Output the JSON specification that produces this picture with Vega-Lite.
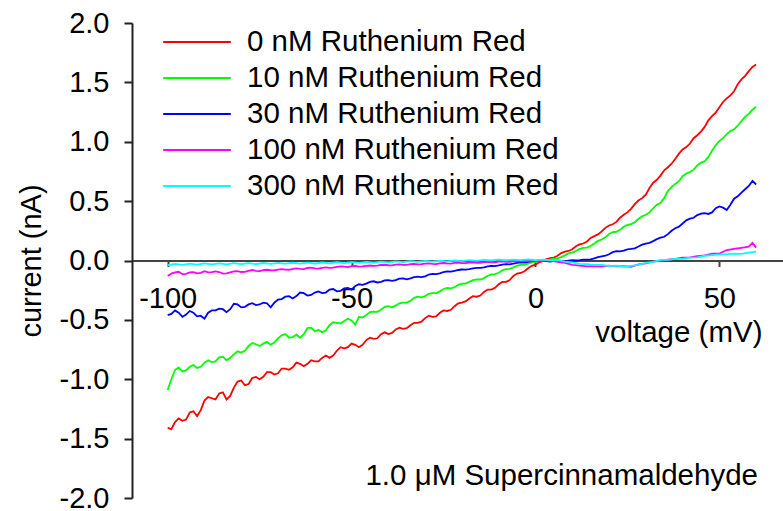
{
"$schema": "https://vega.github.io/schema/vega-lite/v6.json",
"width": 651, "height": 475,
"autosize": {"type": "none"},
"padding": {"left": 132, "top": 23, "right": 0, "bottom": 13},
"background": "white",
"config": {"font": "Liberation Sans", "view": {"stroke": null}},
"layer": [
{
"data": {"values": [
{"s":"0","v":-100,"i":-1.41},{"s":"0","v":-98,"i":-1.36},{"s":"0","v":-96,"i":-1.35},{"s":"0","v":-94,"i":-1.28},{"s":"0","v":-92,"i":-1.31},{"s":"0","v":-90,"i":-1.18},{"s":"0","v":-88,"i":-1.16},{"s":"0","v":-86,"i":-1.12},{"s":"0","v":-84,"i":-1.17},{"s":"0","v":-82,"i":-1.07},{"s":"0","v":-80,"i":-1.01},{"s":"0","v":-78,"i":-1.04},{"s":"0","v":-76,"i":-0.98},{"s":"0","v":-74,"i":-0.98},{"s":"0","v":-72,"i":-0.94},{"s":"0","v":-70,"i":-0.95},{"s":"0","v":-68,"i":-0.91},{"s":"0","v":-66,"i":-0.90},{"s":"0","v":-64,"i":-0.87},{"s":"0","v":-62,"i":-0.87},{"s":"0","v":-60,"i":-0.85},{"s":"0","v":-58,"i":-0.82},{"s":"0","v":-56,"i":-0.82},{"s":"0","v":-54,"i":-0.76},{"s":"0","v":-52,"i":-0.74},{"s":"0","v":-50,"i":-0.70},{"s":"0","v":-48,"i":-0.73},{"s":"0","v":-46,"i":-0.67},{"s":"0","v":-44,"i":-0.66},{"s":"0","v":-42,"i":-0.62},{"s":"0","v":-40,"i":-0.62},{"s":"0","v":-38,"i":-0.58},{"s":"0","v":-36,"i":-0.575},{"s":"0","v":-34,"i":-0.545},{"s":"0","v":-32,"i":-0.525},{"s":"0","v":-30,"i":-0.485},{"s":"0","v":-28,"i":-0.475},{"s":"0","v":-26,"i":-0.44},{"s":"0","v":-24,"i":-0.425},{"s":"0","v":-22,"i":-0.385},{"s":"0","v":-20,"i":-0.355},{"s":"0","v":-18,"i":-0.32},{"s":"0","v":-16,"i":-0.305},{"s":"0","v":-14,"i":-0.265},{"s":"0","v":-12,"i":-0.245},{"s":"0","v":-10,"i":-0.2},{"s":"0","v":-8,"i":-0.18},{"s":"0","v":-6,"i":-0.13},{"s":"0","v":-4,"i":-0.105},{"s":"0","v":-2,"i":-0.065},{"s":"0","v":0,"i":-0.035},{"s":"0","v":2,"i":-0.005},{"s":"0","v":4,"i":0.02},{"s":"0","v":6,"i":0.04},{"s":"0","v":8,"i":0.075},{"s":"0","v":10,"i":0.095},{"s":"0","v":12,"i":0.135},{"s":"0","v":14,"i":0.16},{"s":"0","v":16,"i":0.205},{"s":"0","v":18,"i":0.245},{"s":"0","v":20,"i":0.295},{"s":"0","v":22,"i":0.325},{"s":"0","v":24,"i":0.385},{"s":"0","v":26,"i":0.435},{"s":"0","v":28,"i":0.505},{"s":"0","v":30,"i":0.555},{"s":"0","v":32,"i":0.655},{"s":"0","v":34,"i":0.715},{"s":"0","v":36,"i":0.785},{"s":"0","v":38,"i":0.855},{"s":"0","v":40,"i":0.935},{"s":"0","v":42,"i":0.985},{"s":"0","v":44,"i":1.055},{"s":"0","v":46,"i":1.125},{"s":"0","v":48,"i":1.215},{"s":"0","v":50,"i":1.29},{"s":"0","v":52,"i":1.365},{"s":"0","v":54,"i":1.425},{"s":"0","v":56,"i":1.525},{"s":"0","v":58,"i":1.595},{"s":"0","v":60,"i":1.65},
{"s":"0","v":-99,"i":-1.42},{"s":"0","v":-97,"i":-1.33},{"s":"0","v":-95,"i":-1.34},{"s":"0","v":-93,"i":-1.27},{"s":"0","v":-91,"i":-1.26},{"s":"0","v":-89,"i":-1.15},{"s":"0","v":-87,"i":-1.17},{"s":"0","v":-85,"i":-1.11},{"s":"0","v":-83,"i":-1.14},{"s":"0","v":-81,"i":-1.02},{"s":"0","v":-79,"i":-1.05},{"s":"0","v":-77,"i":-0.99},{"s":"0","v":-75,"i":-1.0},{"s":"0","v":-73,"i":-0.94},{"s":"0","v":-71,"i":-0.96},{"s":"0","v":-69,"i":-0.91},{"s":"0","v":-67,"i":-0.92},{"s":"0","v":-65,"i":-0.86},{"s":"0","v":-63,"i":-0.89},{"s":"0","v":-61,"i":-0.84},{"s":"0","v":-59,"i":-0.85},{"s":"0","v":-57,"i":-0.80},{"s":"0","v":-55,"i":-0.80},{"s":"0","v":-53,"i":-0.73},{"s":"0","v":-51,"i":-0.73},{"s":"0","v":-49,"i":-0.71},{"s":"0","v":-47,"i":-0.71},{"s":"0","v":-45,"i":-0.65},{"s":"0","v":-43,"i":-0.655},{"s":"0","v":-41,"i":-0.605},{"s":"0","v":-39,"i":-0.61},{"s":"0","v":-37,"i":-0.565},{"s":"0","v":-35,"i":-0.57},{"s":"0","v":-33,"i":-0.525},{"s":"0","v":-31,"i":-0.515},{"s":"0","v":-29,"i":-0.465},{"s":"0","v":-27,"i":-0.47},{"s":"0","v":-25,"i":-0.42},{"s":"0","v":-23,"i":-0.415},{"s":"0","v":-21,"i":-0.36},{"s":"0","v":-19,"i":-0.345},{"s":"0","v":-17,"i":-0.30},{"s":"0","v":-15,"i":-0.295},{"s":"0","v":-13,"i":-0.245},{"s":"0","v":-11,"i":-0.23},{"s":"0","v":-9,"i":-0.18},{"s":"0","v":-7,"i":-0.165},{"s":"0","v":-5,"i":-0.11},{"s":"0","v":-3,"i":-0.09},{"s":"0","v":-1,"i":-0.045},
{"s":"0","v":1,"i":-0.015},{"s":"0","v":3,"i":0.012},{"s":"0","v":5,"i":0.025},{"s":"0","v":7,"i":0.062},{"s":"0","v":9,"i":0.08},{"s":"0","v":11,"i":0.12},{"s":"0","v":13,"i":0.143},{"s":"0","v":15,"i":0.19},{"s":"0","v":17,"i":0.22},{"s":"0","v":19,"i":0.275},{"s":"0","v":21,"i":0.305},{"s":"0","v":23,"i":0.36},{"s":"0","v":25,"i":0.405},{"s":"0","v":27,"i":0.475},{"s":"0","v":29,"i":0.525},{"s":"0","v":31,"i":0.61},{"s":"0","v":33,"i":0.68},{"s":"0","v":35,"i":0.76},{"s":"0","v":37,"i":0.815},{"s":"0","v":39,"i":0.9},{"s":"0","v":41,"i":0.955},{"s":"0","v":43,"i":1.03},{"s":"0","v":45,"i":1.085},{"s":"0","v":47,"i":1.18},{"s":"0","v":49,"i":1.245},{"s":"0","v":51,"i":1.335},{"s":"0","v":53,"i":1.39},{"s":"0","v":55,"i":1.485},{"s":"0","v":57,"i":1.555},{"s":"0","v":59,"i":1.63},
{"s":"10","v":-100,"i":-1.09},{"s":"10","v":-99,"i":-1.0},{"s":"10","v":-98,"i":-0.92},{"s":"10","v":-96,"i":-0.935},{"s":"10","v":-94,"i":-0.895},{"s":"10","v":-92,"i":-0.905},{"s":"10","v":-90,"i":-0.86},{"s":"10","v":-88,"i":-0.855},{"s":"10","v":-86,"i":-0.815},{"s":"10","v":-84,"i":-0.84},{"s":"10","v":-82,"i":-0.79},{"s":"10","v":-80,"i":-0.775},{"s":"10","v":-78,"i":-0.72},{"s":"10","v":-76,"i":-0.705},{"s":"10","v":-74,"i":-0.70},{"s":"10","v":-72,"i":-0.71},{"s":"10","v":-70,"i":-0.655},{"s":"10","v":-68,"i":-0.62},{"s":"10","v":-66,"i":-0.645},{"s":"10","v":-64,"i":-0.65},{"s":"10","v":-62,"i":-0.57},{"s":"10","v":-60,"i":-0.595},{"s":"10","v":-58,"i":-0.605},{"s":"10","v":-56,"i":-0.545},{"s":"10","v":-54,"i":-0.525},{"s":"10","v":-52,"i":-0.51},{"s":"10","v":-50,"i":-0.505},{"s":"10","v":-49,"i":-0.54},{"s":"10","v":-48,"i":-0.475},{"s":"10","v":-46,"i":-0.46},{"s":"10","v":-44,"i":-0.43},{"s":"10","v":-42,"i":-0.415},{"s":"10","v":-40,"i":-0.385},{"s":"10","v":-38,"i":-0.38},{"s":"10","v":-36,"i":-0.355},{"s":"10","v":-34,"i":-0.34},{"s":"10","v":-32,"i":-0.305},{"s":"10","v":-30,"i":-0.30},{"s":"10","v":-28,"i":-0.275},{"s":"10","v":-26,"i":-0.26},{"s":"10","v":-24,"i":-0.23},{"s":"10","v":-22,"i":-0.225},{"s":"10","v":-20,"i":-0.195},{"s":"10","v":-18,"i":-0.18},{"s":"10","v":-16,"i":-0.16},{"s":"10","v":-14,"i":-0.148},{"s":"10","v":-12,"i":-0.117},{"s":"10","v":-10,"i":-0.103},{"s":"10","v":-8,"i":-0.072},{"s":"10","v":-6,"i":-0.058},{"s":"10","v":-4,"i":-0.037},{"s":"10","v":-2,"i":-0.027},{"s":"10","v":0,"i":-0.01},{"s":"10","v":2,"i":-0.004},{"s":"10","v":4,"i":0.008},{"s":"10","v":6,"i":0.018},{"s":"10","v":8,"i":0.043},{"s":"10","v":10,"i":0.067},{"s":"10","v":12,"i":0.098},{"s":"10","v":14,"i":0.108},{"s":"10","v":16,"i":0.143},{"s":"10","v":18,"i":0.177},{"s":"10","v":20,"i":0.223},{"s":"10","v":22,"i":0.242},{"s":"10","v":24,"i":0.284},{"s":"10","v":26,"i":0.306},{"s":"10","v":28,"i":0.35},{"s":"10","v":30,"i":0.385},{"s":"10","v":32,"i":0.44},{"s":"10","v":34,"i":0.485},{"s":"10","v":36,"i":0.585},{"s":"10","v":38,"i":0.645},{"s":"10","v":40,"i":0.71},{"s":"10","v":42,"i":0.745},{"s":"10","v":44,"i":0.80},{"s":"10","v":46,"i":0.835},{"s":"10","v":48,"i":0.925},{"s":"10","v":50,"i":1.005},{"s":"10","v":52,"i":1.065},{"s":"10","v":54,"i":1.105},{"s":"10","v":56,"i":1.175},{"s":"10","v":58,"i":1.235},{"s":"10","v":60,"i":1.295},
{"s":"10","v":-97,"i":-0.90},{"s":"10","v":-95,"i":-0.925},{"s":"10","v":-93,"i":-0.88},{"s":"10","v":-91,"i":-0.895},{"s":"10","v":-89,"i":-0.84},{"s":"10","v":-87,"i":-0.85},{"s":"10","v":-85,"i":-0.81},{"s":"10","v":-83,"i":-0.82},{"s":"10","v":-81,"i":-0.765},{"s":"10","v":-79,"i":-0.76},{"s":"10","v":-77,"i":-0.695},{"s":"10","v":-75,"i":-0.72},{"s":"10","v":-73,"i":-0.685},{"s":"10","v":-71,"i":-0.69},{"s":"10","v":-69,"i":-0.63},{"s":"10","v":-67,"i":-0.65},{"s":"10","v":-65,"i":-0.625},{"s":"10","v":-63,"i":-0.62},{"s":"10","v":-61,"i":-0.565},{"s":"10","v":-59,"i":-0.585},{"s":"10","v":-57,"i":-0.59},{"s":"10","v":-55,"i":-0.52},{"s":"10","v":-53,"i":-0.53},{"s":"10","v":-51,"i":-0.49},{"s":"10","v":-47,"i":-0.48},{"s":"10","v":-45,"i":-0.435},{"s":"10","v":-43,"i":-0.432},{"s":"10","v":-41,"i":-0.39},{"s":"10","v":-39,"i":-0.395},{"s":"10","v":-37,"i":-0.36},{"s":"10","v":-35,"i":-0.355},{"s":"10","v":-33,"i":-0.315},{"s":"10","v":-31,"i":-0.31},{"s":"10","v":-29,"i":-0.28},{"s":"10","v":-27,"i":-0.275},{"s":"10","v":-25,"i":-0.24},{"s":"10","v":-23,"i":-0.235},{"s":"10","v":-21,"i":-0.205},{"s":"10","v":-19,"i":-0.195},{"s":"10","v":-17,"i":-0.165},{"s":"10","v":-15,"i":-0.16},{"s":"10","v":-13,"i":-0.128},{"s":"10","v":-11,"i":-0.115},{"s":"10","v":-9,"i":-0.083},{"s":"10","v":-7,"i":-0.07},{"s":"10","v":-5,"i":-0.043},{"s":"10","v":-3,"i":-0.035},{"s":"10","v":-1,"i":-0.016},
{"s":"10","v":1,"i":-0.001},{"s":"10","v":3,"i":0.0},{"s":"10","v":5,"i":0.016},{"s":"10","v":7,"i":0.028},{"s":"10","v":9,"i":0.06},{"s":"10","v":11,"i":0.08},{"s":"10","v":13,"i":0.107},{"s":"10","v":15,"i":0.122},{"s":"10","v":17,"i":0.166},{"s":"10","v":19,"i":0.195},{"s":"10","v":21,"i":0.238},{"s":"10","v":23,"i":0.258},{"s":"10","v":25,"i":0.3},{"s":"10","v":27,"i":0.322},{"s":"10","v":29,"i":0.372},{"s":"10","v":31,"i":0.405},{"s":"10","v":33,"i":0.47},{"s":"10","v":35,"i":0.525},{"s":"10","v":37,"i":0.62},{"s":"10","v":39,"i":0.668},{"s":"10","v":41,"i":0.733},{"s":"10","v":43,"i":0.765},{"s":"10","v":45,"i":0.825},{"s":"10","v":47,"i":0.87},{"s":"10","v":49,"i":0.97},{"s":"10","v":51,"i":1.03},{"s":"10","v":53,"i":1.09},{"s":"10","v":55,"i":1.135},{"s":"10","v":57,"i":1.21},{"s":"10","v":59,"i":1.27},
{"s":"30","v":-100,"i":-0.46},{"s":"30","v":-98,"i":-0.42},{"s":"30","v":-96,"i":-0.475},{"s":"30","v":-94,"i":-0.425},{"s":"30","v":-92,"i":-0.47},{"s":"30","v":-90,"i":-0.49},{"s":"30","v":-88,"i":-0.42},{"s":"30","v":-86,"i":-0.405},{"s":"30","v":-84,"i":-0.435},{"s":"30","v":-82,"i":-0.365},{"s":"30","v":-80,"i":-0.395},{"s":"30","v":-78,"i":-0.37},{"s":"30","v":-76,"i":-0.375},{"s":"30","v":-74,"i":-0.355},{"s":"30","v":-72,"i":-0.395},{"s":"30","v":-70,"i":-0.33},{"s":"30","v":-68,"i":-0.305},{"s":"30","v":-66,"i":-0.32},{"s":"30","v":-64,"i":-0.27},{"s":"30","v":-62,"i":-0.295},{"s":"30","v":-60,"i":-0.27},{"s":"30","v":-58,"i":-0.275},{"s":"30","v":-56,"i":-0.245},{"s":"30","v":-54,"i":-0.26},{"s":"30","v":-52,"i":-0.235},{"s":"30","v":-50,"i":-0.245},{"s":"30","v":-48,"i":-0.2},{"s":"30","v":-46,"i":-0.195},{"s":"30","v":-44,"i":-0.175},{"s":"30","v":-42,"i":-0.18},{"s":"30","v":-40,"i":-0.165},{"s":"30","v":-38,"i":-0.165},{"s":"30","v":-36,"i":-0.15},{"s":"30","v":-34,"i":-0.15},{"s":"30","v":-32,"i":-0.136},{"s":"30","v":-30,"i":-0.133},{"s":"30","v":-28,"i":-0.112},{"s":"30","v":-26,"i":-0.108},{"s":"30","v":-24,"i":-0.092},{"s":"30","v":-22,"i":-0.088},{"s":"30","v":-20,"i":-0.076},{"s":"30","v":-18,"i":-0.072},{"s":"30","v":-16,"i":-0.062},{"s":"30","v":-14,"i":-0.057},{"s":"30","v":-12,"i":-0.046},{"s":"30","v":-10,"i":-0.042},{"s":"30","v":-8,"i":-0.031},{"s":"30","v":-6,"i":-0.027},{"s":"30","v":-4,"i":-0.016},{"s":"30","v":-2,"i":-0.012},{"s":"30","v":0,"i":-0.004},{"s":"30","v":2,"i":0.0},{"s":"30","v":4,"i":-0.009},{"s":"30","v":6,"i":-0.006},{"s":"30","v":8,"i":-0.007},{"s":"30","v":10,"i":0.002},{"s":"30","v":12,"i":0.003},{"s":"30","v":14,"i":0.008},{"s":"30","v":16,"i":0.018},{"s":"30","v":18,"i":0.034},{"s":"30","v":20,"i":0.053},{"s":"30","v":22,"i":0.078},{"s":"30","v":24,"i":0.083},{"s":"30","v":26,"i":0.097},{"s":"30","v":28,"i":0.118},{"s":"30","v":30,"i":0.142},{"s":"30","v":32,"i":0.163},{"s":"30","v":34,"i":0.192},{"s":"30","v":36,"i":0.222},{"s":"30","v":38,"i":0.272},{"s":"30","v":40,"i":0.312},{"s":"30","v":42,"i":0.352},{"s":"30","v":44,"i":0.382},{"s":"30","v":46,"i":0.398},{"s":"30","v":48,"i":0.405},{"s":"30","v":50,"i":0.455},{"s":"30","v":52,"i":0.425},{"s":"30","v":54,"i":0.52},{"s":"30","v":56,"i":0.572},{"s":"30","v":58,"i":0.628},{"s":"30","v":59,"i":0.67},{"s":"30","v":60,"i":0.64},
{"s":"30","v":-99,"i":-0.45},{"s":"30","v":-97,"i":-0.44},{"s":"30","v":-95,"i":-0.455},{"s":"30","v":-93,"i":-0.44},{"s":"30","v":-91,"i":-0.465},{"s":"30","v":-89,"i":-0.44},{"s":"30","v":-87,"i":-0.42},{"s":"30","v":-85,"i":-0.41},{"s":"30","v":-83,"i":-0.41},{"s":"30","v":-81,"i":-0.37},{"s":"30","v":-79,"i":-0.39},{"s":"30","v":-77,"i":-0.36},{"s":"30","v":-75,"i":-0.37},{"s":"30","v":-73,"i":-0.36},{"s":"30","v":-71,"i":-0.355},{"s":"30","v":-69,"i":-0.325},{"s":"30","v":-67,"i":-0.30},{"s":"30","v":-65,"i":-0.30},{"s":"30","v":-63,"i":-0.275},{"s":"30","v":-61,"i":-0.29},{"s":"30","v":-59,"i":-0.26},{"s":"30","v":-57,"i":-0.27},{"s":"30","v":-55,"i":-0.24},{"s":"30","v":-53,"i":-0.255},{"s":"30","v":-51,"i":-0.23},{"s":"30","v":-49,"i":-0.215},{"s":"30","v":-47,"i":-0.205},{"s":"30","v":-45,"i":-0.18},{"s":"30","v":-43,"i":-0.185},{"s":"30","v":-41,"i":-0.168},{"s":"30","v":-39,"i":-0.172},{"s":"30","v":-37,"i":-0.152},{"s":"30","v":-35,"i":-0.158},{"s":"30","v":-33,"i":-0.14},{"s":"30","v":-31,"i":-0.14},{"s":"30","v":-29,"i":-0.118},{"s":"30","v":-27,"i":-0.115},{"s":"30","v":-25,"i":-0.097},{"s":"30","v":-23,"i":-0.093},{"s":"30","v":-21,"i":-0.08},{"s":"30","v":-19,"i":-0.077},{"s":"30","v":-17,"i":-0.066},{"s":"30","v":-15,"i":-0.062},{"s":"30","v":-13,"i":-0.05},{"s":"30","v":-11,"i":-0.047},{"s":"30","v":-9,"i":-0.035},{"s":"30","v":-7,"i":-0.032},{"s":"30","v":-5,"i":-0.02},{"s":"30","v":-3,"i":-0.017},{"s":"30","v":-1,"i":-0.006},
{"s":"30","v":1,"i":-0.001},{"s":"30","v":3,"i":-0.006},{"s":"30","v":5,"i":-0.004},{"s":"30","v":7,"i":-0.009},{"s":"30","v":9,"i":-0.001},{"s":"30","v":11,"i":0.0},{"s":"30","v":13,"i":0.007},{"s":"30","v":15,"i":0.01},{"s":"30","v":17,"i":0.028},{"s":"30","v":19,"i":0.04},{"s":"30","v":21,"i":0.07},{"s":"30","v":23,"i":0.077},{"s":"30","v":25,"i":0.093},{"s":"30","v":27,"i":0.103},{"s":"30","v":29,"i":0.133},{"s":"30","v":31,"i":0.148},{"s":"30","v":33,"i":0.18},{"s":"30","v":35,"i":0.2},{"s":"30","v":37,"i":0.25},{"s":"30","v":39,"i":0.285},{"s":"30","v":41,"i":0.338},{"s":"30","v":43,"i":0.36},{"s":"30","v":45,"i":0.395},{"s":"30","v":47,"i":0.392},{"s":"30","v":49,"i":0.44},{"s":"30","v":51,"i":0.445},{"s":"30","v":53,"i":0.47},{"s":"30","v":55,"i":0.54},{"s":"30","v":57,"i":0.6},
{"s":"100","v":-100,"i":-0.13},{"s":"100","v":-98,"i":-0.10},{"s":"100","v":-96,"i":-0.115},{"s":"100","v":-94,"i":-0.10},{"s":"100","v":-92,"i":-0.108},{"s":"100","v":-90,"i":-0.09},{"s":"100","v":-88,"i":-0.098},{"s":"100","v":-86,"i":-0.097},{"s":"100","v":-84,"i":-0.108},{"s":"100","v":-82,"i":-0.092},{"s":"100","v":-80,"i":-0.097},{"s":"100","v":-78,"i":-0.087},{"s":"100","v":-76,"i":-0.088},{"s":"100","v":-74,"i":-0.082},{"s":"100","v":-72,"i":-0.082},{"s":"100","v":-70,"i":-0.076},{"s":"100","v":-68,"i":-0.077},{"s":"100","v":-66,"i":-0.07},{"s":"100","v":-64,"i":-0.07},{"s":"100","v":-62,"i":-0.063},{"s":"100","v":-60,"i":-0.067},{"s":"100","v":-58,"i":-0.062},{"s":"100","v":-56,"i":-0.062},{"s":"100","v":-54,"i":-0.053},{"s":"100","v":-52,"i":-0.052},{"s":"100","v":-50,"i":-0.048},{"s":"100","v":-48,"i":-0.052},{"s":"100","v":-46,"i":-0.045},{"s":"100","v":-44,"i":-0.046},{"s":"100","v":-42,"i":-0.038},{"s":"100","v":-40,"i":-0.04},{"s":"100","v":-38,"i":-0.034},{"s":"100","v":-36,"i":-0.036},{"s":"100","v":-34,"i":-0.03},{"s":"100","v":-32,"i":-0.032},{"s":"100","v":-30,"i":-0.027},{"s":"100","v":-28,"i":-0.029},{"s":"100","v":-26,"i":-0.024},{"s":"100","v":-24,"i":-0.025},{"s":"100","v":-22,"i":-0.02},{"s":"100","v":-20,"i":-0.022},{"s":"100","v":-18,"i":-0.017},{"s":"100","v":-16,"i":-0.019},{"s":"100","v":-14,"i":-0.014},{"s":"100","v":-12,"i":-0.015},{"s":"100","v":-10,"i":-0.01},{"s":"100","v":-8,"i":-0.012},{"s":"100","v":-6,"i":-0.007},{"s":"100","v":-4,"i":-0.008},{"s":"100","v":-2,"i":-0.003},{"s":"100","v":0,"i":-0.004},{"s":"100","v":2,"i":0.002},{"s":"100","v":4,"i":0.0},{"s":"100","v":6,"i":-0.012},{"s":"100","v":8,"i":-0.02},{"s":"100","v":10,"i":-0.037},{"s":"100","v":12,"i":-0.043},{"s":"100","v":14,"i":-0.05},{"s":"100","v":16,"i":-0.047},{"s":"100","v":18,"i":-0.052},{"s":"100","v":20,"i":-0.044},{"s":"100","v":22,"i":-0.05},{"s":"100","v":24,"i":-0.047},{"s":"100","v":26,"i":-0.053},{"s":"100","v":28,"i":-0.033},{"s":"100","v":30,"i":-0.024},{"s":"100","v":32,"i":-0.01},{"s":"100","v":34,"i":-0.004},{"s":"100","v":36,"i":0.007},{"s":"100","v":38,"i":0.013},{"s":"100","v":40,"i":0.024},{"s":"100","v":42,"i":0.026},{"s":"100","v":44,"i":0.036},{"s":"100","v":46,"i":0.043},{"s":"100","v":48,"i":0.058},{"s":"100","v":50,"i":0.058},{"s":"100","v":52,"i":0.088},{"s":"100","v":54,"i":0.098},{"s":"100","v":56,"i":0.107},{"s":"100","v":58,"i":0.116},{"s":"100","v":59,"i":0.148},{"s":"100","v":60,"i":0.108},
{"s":"100","v":-99,"i":-0.11},{"s":"100","v":-97,"i":-0.095},{"s":"100","v":-95,"i":-0.112},{"s":"100","v":-93,"i":-0.098},{"s":"100","v":-91,"i":-0.104},{"s":"100","v":-89,"i":-0.1},{"s":"100","v":-87,"i":-0.092},{"s":"100","v":-85,"i":-0.11},{"s":"100","v":-83,"i":-0.1},{"s":"100","v":-81,"i":-0.09},{"s":"100","v":-79,"i":-0.095},{"s":"100","v":-77,"i":-0.08},{"s":"100","v":-75,"i":-0.09},{"s":"100","v":-73,"i":-0.078},{"s":"100","v":-71,"i":-0.083},{"s":"100","v":-69,"i":-0.072},{"s":"100","v":-67,"i":-0.078},{"s":"100","v":-65,"i":-0.066},{"s":"100","v":-63,"i":-0.072},{"s":"100","v":-61,"i":-0.06},{"s":"100","v":-59,"i":-0.068},{"s":"100","v":-57,"i":-0.058},{"s":"100","v":-55,"i":-0.06},{"s":"100","v":-53,"i":-0.049},{"s":"100","v":-51,"i":-0.055},{"s":"100","v":-49,"i":-0.045},{"s":"100","v":-47,"i":-0.05},{"s":"100","v":-45,"i":-0.042},{"s":"100","v":-43,"i":-0.044},{"s":"100","v":-41,"i":-0.036},{"s":"100","v":-39,"i":-0.041},{"s":"100","v":-37,"i":-0.032},{"s":"100","v":-35,"i":-0.037},{"s":"100","v":-33,"i":-0.028},{"s":"100","v":-31,"i":-0.031},{"s":"100","v":-29,"i":-0.025},{"s":"100","v":-27,"i":-0.03},{"s":"100","v":-25,"i":-0.021},{"s":"100","v":-23,"i":-0.026},{"s":"100","v":-21,"i":-0.018},{"s":"100","v":-19,"i":-0.022},{"s":"100","v":-17,"i":-0.015},{"s":"100","v":-15,"i":-0.019},{"s":"100","v":-13,"i":-0.011},{"s":"100","v":-11,"i":-0.015},{"s":"100","v":-9,"i":-0.008},{"s":"100","v":-7,"i":-0.012},{"s":"100","v":-5,"i":-0.005},{"s":"100","v":-3,"i":-0.008},{"s":"100","v":-1,"i":0.0},
{"s":"300","v":-100,"i":-0.04},{"s":"300","v":-98,"i":-0.028},{"s":"300","v":-96,"i":-0.036},{"s":"300","v":-94,"i":-0.026},{"s":"300","v":-92,"i":-0.034},{"s":"300","v":-90,"i":-0.024},{"s":"300","v":-88,"i":-0.033},{"s":"300","v":-86,"i":-0.025},{"s":"300","v":-84,"i":-0.032},{"s":"300","v":-82,"i":-0.023},{"s":"300","v":-80,"i":-0.031},{"s":"300","v":-78,"i":-0.022},{"s":"300","v":-76,"i":-0.03},{"s":"300","v":-74,"i":-0.021},{"s":"300","v":-72,"i":-0.029},{"s":"300","v":-70,"i":-0.02},{"s":"300","v":-68,"i":-0.027},{"s":"300","v":-66,"i":-0.019},{"s":"300","v":-64,"i":-0.026},{"s":"300","v":-62,"i":-0.018},{"s":"300","v":-60,"i":-0.025},{"s":"300","v":-58,"i":-0.017},{"s":"300","v":-56,"i":-0.023},{"s":"300","v":-54,"i":-0.015},{"s":"300","v":-52,"i":-0.022},{"s":"300","v":-50,"i":-0.014},{"s":"300","v":-48,"i":-0.02},{"s":"300","v":-46,"i":-0.012},{"s":"300","v":-44,"i":-0.018},{"s":"300","v":-42,"i":-0.01},{"s":"300","v":-40,"i":-0.016},{"s":"300","v":-38,"i":-0.008},{"s":"300","v":-36,"i":-0.014},{"s":"300","v":-34,"i":-0.006},{"s":"300","v":-32,"i":-0.012},{"s":"300","v":-30,"i":-0.004},{"s":"300","v":-28,"i":-0.01},{"s":"300","v":-26,"i":-0.002},{"s":"300","v":-24,"i":-0.008},{"s":"300","v":-22,"i":0.0},{"s":"300","v":-20,"i":-0.005},{"s":"300","v":-18,"i":0.003},{"s":"300","v":-16,"i":-0.003},{"s":"300","v":-14,"i":0.005},{"s":"300","v":-12,"i":0.0},{"s":"300","v":-10,"i":0.007},{"s":"300","v":-8,"i":0.002},{"s":"300","v":-6,"i":0.008},{"s":"300","v":-4,"i":0.003},{"s":"300","v":-2,"i":0.009},{"s":"300","v":0,"i":0.004},{"s":"300","v":2,"i":0.008},{"s":"300","v":4,"i":0.002},{"s":"300","v":6,"i":0.003},{"s":"300","v":8,"i":-0.01},{"s":"300","v":10,"i":-0.016},{"s":"300","v":12,"i":-0.028},{"s":"300","v":14,"i":-0.03},{"s":"300","v":16,"i":-0.038},{"s":"300","v":18,"i":-0.038},{"s":"300","v":20,"i":-0.046},{"s":"300","v":22,"i":-0.043},{"s":"300","v":24,"i":-0.051},{"s":"300","v":26,"i":-0.046},{"s":"300","v":28,"i":-0.036},{"s":"300","v":30,"i":-0.02},{"s":"300","v":32,"i":-0.012},{"s":"300","v":34,"i":0.005},{"s":"300","v":36,"i":0.006},{"s":"300","v":38,"i":0.014},{"s":"300","v":40,"i":0.013},{"s":"300","v":42,"i":0.024},{"s":"300","v":44,"i":0.026},{"s":"300","v":46,"i":0.04},{"s":"300","v":48,"i":0.046},{"s":"300","v":50,"i":0.052},{"s":"300","v":52,"i":0.054},{"s":"300","v":54,"i":0.058},{"s":"300","v":56,"i":0.055},{"s":"300","v":58,"i":0.066},{"s":"300","v":60,"i":0.075}
]},
"mark": {"type": "line", "strokeWidth": 1.8},
"encoding": {
"x": {"field": "v", "type": "quantitative",
 "scale": {"domain": [-109.7, 67.3], "nice": false, "zero": false},
 "axis": {"values": [-100, -50, 0, 50], "offset": -237.5, "grid": false,
  "domainColor": "#444", "domainWidth": 2, "tickColor": "#444", "tickWidth": 2, "tickSize": 6,
  "labelFontSize": 29, "labelColor": "black", "labelPadding": 18, "labelExpr": "datum.value", "labelFlush": false, "labelOverlap": false,
  "title": "voltage (mV)", "titleFontSize": 29.5, "titleFontWeight": "normal", "titleColor": "black",
  "titleX": 630, "titleY": 81, "titleAlign": "right", "titleBaseline": "alphabetic"}},
"y": {"field": "i", "type": "quantitative",
 "scale": {"domain": [-2, 2], "nice": false, "zero": false},
 "axis": {"values": [-2, -1.5, -1, -0.5, 0, 0.5, 1, 1.5, 2], "grid": false,
  "domainColor": "#222", "domainWidth": 2, "tickColor": "#222", "tickWidth": 2, "tickSize": 8,
  "labelFontSize": 29, "labelColor": "black", "labelPadding": 15, "labelFlush": false, "labelOverlap": false,
  "labelExpr": "replace(format(datum.value, '.1f'), '\u2212', '-')",
  "title": "current (nA)", "titleFontSize": 29, "titleFontWeight": "normal", "titleColor": "black",
  "titleAngle": -90, "titleX": -92, "titleY": 237.5, "titleAlign": "center", "titleBaseline": "alphabetic"}},
"color": {"field": "s", "type": "nominal",
 "scale": {"domain": ["0", "10", "30", "100", "300"], "range": ["#ff0000", "#00ff00", "#0000ff", "#ff00ff", "#00ffff"]},
 "legend": {"orient": "none", "legendX": 30, "legendY": 1, "title": null, "padding": 0,
  "symbolType": "stroke", "symbolSize": 4570, "symbolStrokeWidth": 2, "clipHeight": 36, "rowPadding": 0,
  "labelFontSize": 29.5, "labelColor": "black", "labelOffset": 15, "labelLimit": 500,
  "labelExpr": "datum.label + ' nM Ruthenium Red'"}}
}
},
{
"data": {"values": [{"note": "1.0 μM Supercinnamaldehyde"}]},
"mark": {"type": "text", "align": "right", "baseline": "alphabetic", "fontSize": 29.5, "color": "black"},
"encoding": {
"x": {"datum": 60.5, "type": "quantitative"},
"y": {"datum": -1.89, "type": "quantitative"},
"text": {"field": "note"}
}
}
]
}
